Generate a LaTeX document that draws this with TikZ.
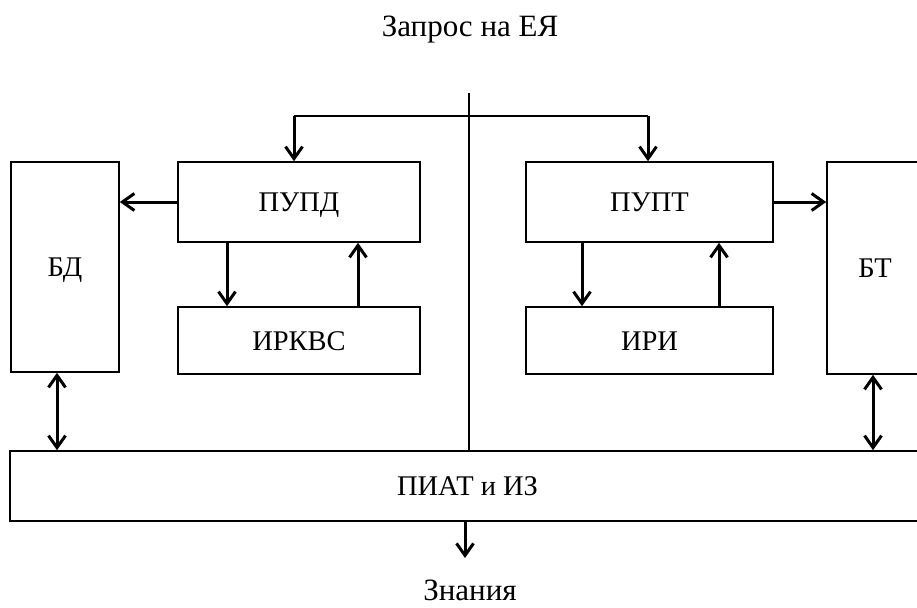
\documentclass[tikz,border=0pt]{standalone}
\usepackage{fontspec}
\setmainfont{Liberation Serif}
\usetikzlibrary{arrows.meta}
\begin{document}
\begin{tikzpicture}[x=1pt,y=-1pt,
  box/.style={draw,line width=1.6pt,inner sep=0pt,text height=19pt,text depth=0pt,font=\fontsize{28.5}{32}\selectfont},
  thinline/.style={line width=1.1pt},
  arr/.style={draw,line width=3pt,arrows={-Straight Barb[length=12pt,width=17pt]}},
  darr/.style={draw,line width=3pt,arrows={Straight Barb[length=12pt,width=17pt]-Straight Barb[length=12pt,width=17pt]}},
  lbl/.style={font=\fontsize{31}{36}\selectfont,inner sep=0pt}]
\clip (0,0) rectangle (917,607);
\fill[white] (0,0) rectangle (917,607);
% title and output text
\node[lbl] (title) at (470,30) {Запрос на ЕЯ};
\node[lbl] (know) at (470,590) {Знания};
% boxes
\node[box,minimum width=108pt,minimum height=210pt] (bd) at (65,267) {БД};
\node[box,minimum width=242pt,minimum height=80pt] (pupd) at (299,202) {ПУПД};
\node[box,minimum width=242pt,minimum height=67pt] (irkvs) at (299,340.5) {ИРКВС};
\node[box,minimum width=247pt,minimum height=80pt] (pupt) at (649.5,202) {ПУПТ};
\node[box,minimum width=247pt,minimum height=67pt] (iri) at (649.5,340.5) {ИРИ};
\node[box,minimum width=96pt,minimum height=212pt] (bt) at (875,268) {БТ};
\node[box,minimum width=915pt,minimum height=70pt] (piat) at (467.5,486) {ПИАТ и ИЗ};
% input lines
\coordinate (in) at (469,93);
\coordinate (jl) at (294,116);
\coordinate (jr) at (648,116);
\draw[thinline] (in) -- (469,0 |- piat.north);
\draw[thinline] (jl) -- (jr);
\draw[arr] (jl) -- (jl |- pupd.north);
\draw[arr] (jr) -- (jr |- pupt.north);
% left side
\draw[arr] (pupd.west) -- (bd.east |- pupd.west);
\draw[arr] (227,0 |- pupd.south) -- (227,0 |- irkvs.north);
\draw[arr] (358,0 |- irkvs.north) -- (358,0 |- pupd.south);
% right side
\draw[arr] (pupt.east) -- (bt.west |- pupt.east);
\draw[arr] (582,0 |- pupt.south) -- (582,0 |- iri.north);
\draw[arr] (719,0 |- iri.north) -- (719,0 |- pupt.south);
% to bottom bar
\draw[darr] (57,0 |- bd.south) -- (57,0 |- piat.north);
\draw[darr] (873,0 |- bt.south) -- (873,0 |- piat.north);
% output
\draw[arr] (465,0 |- piat.south) -- (465,558);
\end{tikzpicture}
\end{document}
